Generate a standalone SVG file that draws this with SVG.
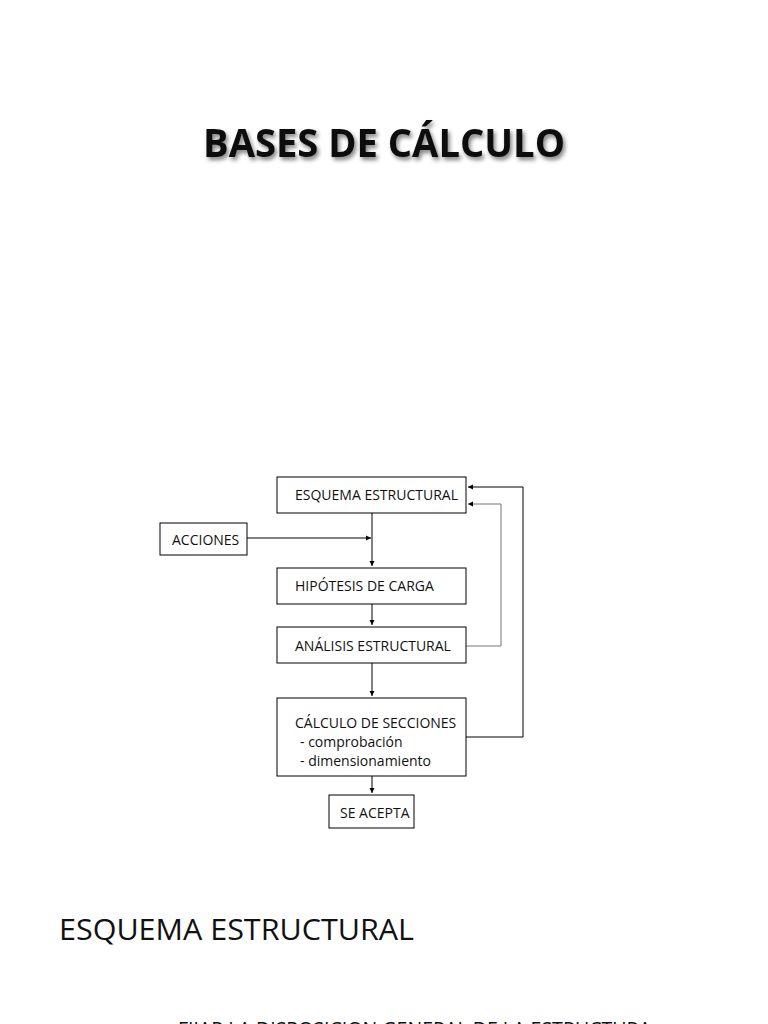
<svg xmlns="http://www.w3.org/2000/svg" width="768" height="1024" viewBox="0 0 768 1024">
<style>
.b{fill:#fff;stroke:#000;stroke-width:1}
.t{font-family:"Open Sans","Liberation Sans",sans-serif;font-size:14px;fill:#111}
.c{fill:none;stroke:#000;stroke-width:1}
.g{fill:none;stroke:#777;stroke-width:1}
</style>
<defs>
<marker id="a" markerWidth="6" markerHeight="6" refX="5" refY="3" orient="auto" markerUnits="userSpaceOnUse"><path d="M0,0.5L5,3L0,5.5z" fill="#000"/></marker>
<filter id="s" x="-5%" y="-20%" width="110%" height="150%"><feGaussianBlur in="SourceAlpha" stdDeviation="2"/><feOffset dx="2" dy="3"/><feComponentTransfer><feFuncA type="linear" slope="0.5"/></feComponentTransfer><feMerge><feMergeNode/><feMergeNode in="SourceGraphic"/></feMerge></filter>
</defs>
<rect width="768" height="1024" fill="#fff"/>
<text x="384" y="157" text-anchor="middle" font-family="Open Sans,Liberation Sans,sans-serif" font-weight="bold" font-size="40" textLength="362" lengthAdjust="spacingAndGlyphs" fill="#111" filter="url(#s)">BASES DE CÁLCULO</text>
<g id="connectors">
<path class="c" d="M372,513V566" marker-end="url(#a)"/>
<path class="c" d="M247,538H371" marker-end="url(#a)"/>
<path class="c" d="M372,604V625" marker-end="url(#a)"/>
<path class="c" d="M372,663V696" marker-end="url(#a)"/>
<path class="c" d="M372,776V793" marker-end="url(#a)"/>
<path class="g" d="M466,646H501V504H468" marker-end="url(#a)"/>
<path class="c" d="M466,737H523V487H468" marker-end="url(#a)"/>
</g>
<g id="esquema"><rect class="b" x="277" y="477" width="189" height="36"/><text class="t" x="295" y="500">ESQUEMA ESTRUCTURAL</text></g>
<g id="acciones"><rect class="b" x="160" y="523" width="87" height="32"/><text class="t" x="172" y="545">ACCIONES</text></g>
<g id="hipotesis"><rect class="b" x="277" y="568" width="189" height="36"/><text class="t" x="295" y="591">HIPÓTESIS DE CARGA</text></g>
<g id="analisis"><rect class="b" x="277" y="627" width="189" height="36"/><text class="t" x="295" y="651">ANÁLISIS ESTRUCTURAL</text></g>
<g id="calculo"><rect class="b" x="277" y="698" width="189" height="78"/><text class="t" x="295" y="728">CÁLCULO DE SECCIONES</text><text class="t" x="300" y="747">- comprobación</text><text class="t" x="300" y="766">- dimensionamiento</text></g>
<g id="acepta"><rect class="b" x="329" y="795" width="85" height="33"/><text class="t" x="340" y="818">SE ACEPTA</text></g>
<text x="59" y="940" font-family="Open Sans,Liberation Sans,sans-serif" font-size="30" textLength="355" lengthAdjust="spacingAndGlyphs" fill="#111">ESQUEMA ESTRUCTURAL</text>
<text x="178" y="1036" font-family="Open Sans,Liberation Sans,sans-serif" font-size="20" textLength="473" lengthAdjust="spacingAndGlyphs" fill="#111">FIJAR LA DISPOSICION GENERAL DE LA ESTRUCTURA</text>
</svg>
